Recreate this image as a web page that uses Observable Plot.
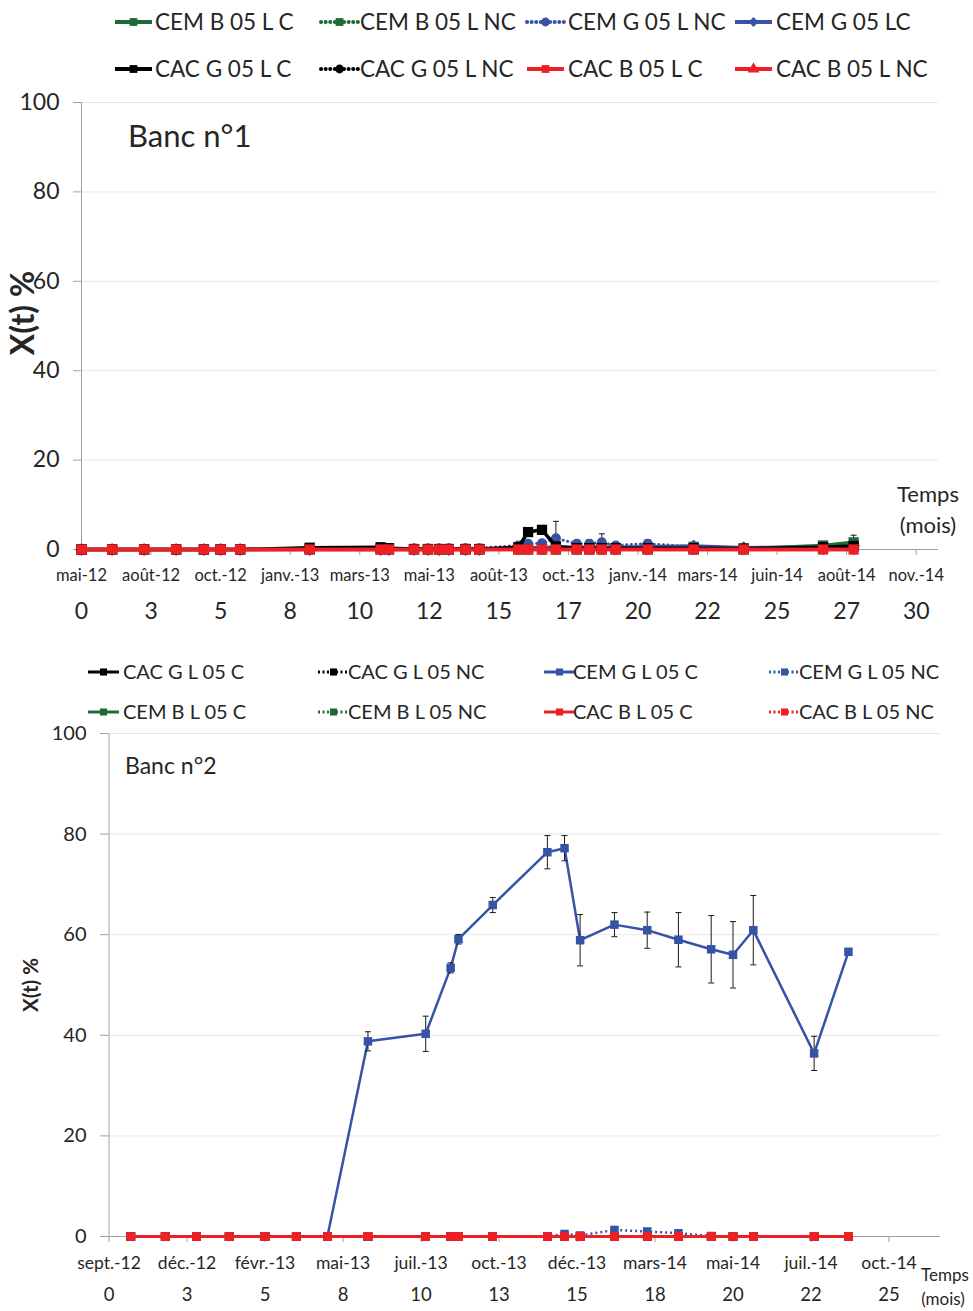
<!DOCTYPE html>
<html><head><meta charset="utf-8">
<script src="https://cdn.jsdelivr.net/npm/d3@7"></script>
<script src="https://cdn.jsdelivr.net/npm/@observablehq/plot@0.6"></script>
<style>
body{margin:0;background:#fff;font-family:Lato,"Open Sans",sans-serif;color:#262626}
#root{position:relative;width:973px;height:1311px;overflow:hidden;background:#fff}
#root > svg, #root > figure{position:absolute;left:0;margin:0}
</style></head><body><div id="root"></div>
<script>
// ---------- Panel 1 (Banc n°1) data ----------
const t1 = [0, 1.1, 2.25, 3.4, 4.4, 5.0, 5.7, 8.2, 10.75, 11.05, 11.95, 12.45, 12.85, 13.2, 13.8, 14.3, 15.7, 16.05, 16.55, 17.05, 17.8, 18.25, 18.7, 19.2, 20.35, 22.0, 23.8, 26.65, 27.75];
const cemB05LC_1      = [0,0,0,0,0,0,0,0.1,0.2,0.2,0.1,0.1,0.1,0.1,0.1,0.1,0.2,0.2,0.2,0.3,0.3,0.3,0.3,0.3,0.4,0.6,0.2,0.9,1.6];
const cemB05LC_1_err  = [0,0,0,0,0,0,0,0,0,0,0,0,0,0,0,0,0,0,0,0,0,0,0,0,0,0,0,0.3,1.6];
const cemB05LNC_1     = [0,0,0,0,0,0,0,0,0,0,0,0,0,0,0,0,0,0,0,0,0,0,0,0,0,0,0,0.5,0.8];
const cemG05LNC_1     = [0,0,0,0,0,0,0,0.1,0.2,0.2,0.2,0.2,0.2,0.3,0.3,0.3,0.9,1.3,1.4,2.5,1.3,1.3,1.6,0.9,1.3,0.6,0.3,0.4,0.5];
const cemG05LNC_1_err = [0,0,0,0,0,0,0,0,0,0,0,0,0,0,0,0,0,0.3,0.3,3.8,0.8,0.9,1.9,0,0.9,0,0,0,0];
const cemG05LC_1      = [0,0,0,0,0,0,0,0,0,0,0,0,0,0,0,0,0.3,0.4,0.4,0.5,0.5,0.5,0.5,0.5,0.6,0.8,0.4,0.5,0.8];
const cacG05LC_1      = [0,0,0,0,0,0,0,0.4,0.5,0.3,0.1,0.1,0.1,0.1,0.1,0.1,0.5,3.9,4.4,0.7,0.3,0.3,0.3,0.3,0.3,0.3,0.2,0.5,0.8];
const cacG05LNC_1     = [0,0,0,0,0,0,0,0,0,0,0,0,0,0,0,0,0,0,0,0,0,0,0,0,0,0,0,0,0];
const cacB05LC_1      = [0,0,0,0,0,0,0,0,0,0,0,0,0,0,0,0,0,0,0,0,0,0,0,0,0,0,0,0,0];
const cacB05LNC_1     = [0,0,0,0,0,0,0,0,0,0,0,0,0,0,0,0,0,0,0,0,0,0,0,0,0,0,0,0,0];
const xTicks1 = [0, 2.5, 5, 7.5, 10, 12.5, 15, 17.5, 20, 22.5, 25, 27.5, 30];
const dateLabels1 = ["mai-12","août-12","oct.-12","janv.-13","mars-13","mai-13","août-13","oct.-13","janv.-14","mars-14","juin-14","août-14","nov.-14"];
const monthLabels1 = ["0","3","5","8","10","12","15","17","20","22","25","27","30"];

// ---------- Panel 2 (Banc n°2) data ----------
const t2 = [0.7, 1.8, 2.8, 3.85, 5.0, 6.0, 7.0, 8.3, 10.15, 10.95, 11.2, 12.3, 14.05, 14.6, 15.1, 16.2, 17.25, 18.25, 19.3, 20.0, 20.65, 22.6, 23.7];
const cacGL05C_2      = [0,0,0,0,0,0,0,0,0,0,0,0,0,0,0,0,0,0,0,0,0,0,0];
const cacGL05NC_2     = [0,0,0,0,0,0,0,0,0,0,0,0,0,0,0,0,0,0,0,0,0,0,0];
const cemGL05C_2      = [0,0,0,0,0,0,0,38.8,40.3,53.4,59.1,65.9,76.4,77.2,58.9,62.0,60.9,59.0,57.1,56.0,60.9,36.4,56.6];
const cemGL05C_2_err  = [0,0,0,0,0,0,0,1.9,3.5,1.0,0.95,1.5,3.3,2.5,5.1,2.4,3.6,5.4,6.7,6.6,6.9,3.4,0];
const cemGL05NC_2     = [0,0,0,0,0,0,0,0,0,0,0,0,0,0.5,0.2,1.3,1.0,0.65,0.1,null,null,null,null];
const cemBL05C_2      = [0,0,0,0,0,0,0,0,0,0,0,0,0,0,0,0,0,0,0,0,0,0,0];
const cemBL05NC_2     = [0,0,0,0,0,0,0,0,0,0,0,0,0,0,0,0,0,0,0,0,0,0,0];
const cacBL05C_2      = [0,0,0,0,0,0,0,0,0,0,0,0,0,0,0,0,0,0,0,0,0,0,0];
const cacBL05NC_2     = [0,0,0,0,0,0,0,0,0,0,0,0,0,0,0,0,0,0,0,0,0,0,0];
const xTicks2 = [0, 2.5, 5, 7.5, 10, 12.5, 15, 17.5, 20, 22.5, 25];
const dateLabels2 = ["sept.-12","déc.-12","févr.-13","mai-13","juil.-13","oct.-13","déc.-13","mars-14","mai-14","juil.-14","oct.-14"];
const monthLabels2 = ["0","3","5","8","10","13","15","18","20","22","25"];

const yTicks = [0, 20, 40, 60, 80, 100];
const gridTicks = [20, 40, 60, 80, 100];

// ---------- styles ----------
const GREEN = "#1d6b36", BLUE = "#3653a5", BLACK = "#000000", RED = "#ee1f25";
const TXT = "#262626", AXIS = "#a0a0a0", GRID = "#e8e8e8", ERR = "#1a1a1a";

const series1 = [
  {name:"CEM B 05 L C",  values:cemB05LC_1,  err:cemB05LC_1_err,  color:GREEN, dotted:false, symbol:"square"},
  {name:"CEM B 05 L NC", values:cemB05LNC_1, color:GREEN, dotted:true,  symbol:"square"},
  {name:"CEM G 05 L NC", values:cemG05LNC_1, err:cemG05LNC_1_err, color:BLUE, dotted:true, symbol:"circle"},
  {name:"CEM G 05 LC",   values:cemG05LC_1,  color:BLUE,  dotted:false, symbol:"diamond2"},
  {name:"CAC G 05 L C",  values:cacG05LC_1,  color:BLACK, dotted:false, symbol:"square"},
  {name:"CAC G 05 L NC", values:cacG05LNC_1, color:BLACK, dotted:true,  symbol:"circle"},
  {name:"CAC B 05 L NC", values:cacB05LNC_1, color:RED,   dotted:false, symbol:"triangle", plotR:3.2},
  {name:"CAC B 05 L C",  values:cacB05LC_1,  color:RED,   dotted:false, symbol:"square"}
];
const series2 = [
  {name:"CAC G L 05 C",  values:cacGL05C_2,  color:BLACK, dotted:false, symbol:"square"},
  {name:"CAC G L 05 NC", values:cacGL05NC_2, color:BLACK, dotted:true,  symbol:"square"},
  {name:"CEM B L 05 C",  values:cemBL05C_2,  color:GREEN, dotted:false, symbol:"square"},
  {name:"CEM B L 05 NC", values:cemBL05NC_2, color:GREEN, dotted:true,  symbol:"square"},
  {name:"CEM G L 05 C",  values:cemGL05C_2,  err:cemGL05C_2_err, color:BLUE, dotted:false, symbol:"square"},
  {name:"CEM G L 05 NC", values:cemGL05NC_2, color:BLUE,  dotted:true,  symbol:"square"},
  {name:"CAC B L 05 NC", values:cacBL05NC_2, color:RED,   dotted:true,  symbol:"square"},
  {name:"CAC B L 05 C",  values:cacBL05C_2,  color:RED,   dotted:false, symbol:"square"}
];

const capSymbol = {draw(ctx, size){ const w = Math.sqrt(size / Math.PI); ctx.moveTo(-w, 0); ctx.lineTo(w, 0); }};

function seriesMarks(t, list, o) {
  const marks = [];
  for (const s of list) {
    const rows = t.map((tt, i) => ({t: tt, v: s.values[i], e: s.err ? s.err[i] : 0})).filter(d => d.v != null);
    const lw = s.color === RED ? o.redW : (s.dotted ? o.dotW : o.lineW);
    marks.push(Plot.line(rows, {x:"t", y:"v", stroke:s.color, strokeWidth:lw,
      strokeDasharray: s.dotted ? o.dash : null, strokeLinecap: s.dotted ? o.dotCap : "butt", strokeLinejoin:"round"}));
    const er = rows.filter(d => d.e > 0);
    if (er.length) {
      marks.push(Plot.ruleX(er, {x:"t", y1:d => Math.max(0, d.v - d.e), y2:d => d.v + d.e, stroke:ERR, strokeWidth:1}));
      marks.push(Plot.dot(er, {x:"t", y:d => d.v + d.e, symbol:capSymbol, r:o.cap, stroke:ERR, strokeWidth:1, fill:"none"}));
      marks.push(Plot.dot(er.filter(d => d.v - d.e > 0), {x:"t", y:d => d.v - d.e, symbol:capSymbol, r:o.cap, stroke:ERR, strokeWidth:1, fill:"none"}));
    }
    const r = s.plotR ?? (s.symbol === "circle" ? o.rc : o.r);
    marks.push(Plot.dot(rows, {x:"t", y:"v", symbol:s.symbol, r, fill:s.color, stroke:"none"}));
  }
  return marks;
}

function frameMarks(xTicks, dateLabels, monthLabels, f) {
  return [
    Plot.ruleY(gridTicks, {stroke:GRID, strokeWidth:1}),
    Plot.ruleY([0], {stroke:AXIS, strokeWidth:1}),
    Plot.ruleX([0], {stroke:AXIS, strokeWidth:1}),
    Plot.axisY({ticks:yTicks, tickSize:f.yTickSize, tickPadding:f.yPad, fontSize:f.yFont, stroke:AXIS, fill:TXT, label:null}),
    Plot.axisX({ticks:xTicks, tickFormat:d => dateLabels[xTicks.indexOf(d)], tickSize:6, tickPadding:f.datePad, fontSize:f.dateFont, stroke:AXIS, fill:TXT, label:null}),
    Plot.axisX({ticks:xTicks, tickFormat:d => monthLabels[xTicks.indexOf(d)], tickSize:0, tickPadding:f.numPad, fontSize:f.numFont, fill:TXT, label:null})
  ];
}

const root = document.getElementById("root");

const p1 = Plot.plot({
  width:973, height:540, marginLeft:81, marginRight:35, marginTop:10, marginBottom:83,
  x:{domain:[0, 30.8]}, y:{domain:[0, 100]},
  style:{fontFamily:"Lato, 'Open Sans', sans-serif", background:"transparent", overflow:"visible"},
  marks:[
    ...frameMarks(xTicks1, dateLabels1, monthLabels1, {yTickSize:8, yPad:14, yFont:23, datePad:14, dateFont:16.5, numPad:53, numFont:23}),
    ...seriesMarks(t1, series1, {lineW:3.5, redW:3.5, dotW:3, dash:"0.1,4.5", dotCap:"round", r:5.8, rc:5, cap:3})
  ]
});
p1.style.top = "92px";
root.appendChild(p1);

const p2 = Plot.plot({
  width:973, height:589, marginLeft:108.5, marginRight:33, marginTop:11, marginBottom:75,
  x:{domain:[0, 26.65]}, y:{domain:[0, 100]},
  style:{fontFamily:"Lato, 'Open Sans', sans-serif", background:"transparent", overflow:"visible"},
  marks:[
    ...frameMarks(xTicks2, dateLabels2, monthLabels2, {yTickSize:8.5, yPad:14, yFont:20, datePad:14, dateFont:17.5, numPad:51, numFont:18.5}),
    ...seriesMarks(t2, series2, {lineW:2.5, redW:3, dotW:2.5, dash:"2,3", dotCap:"butt", r:4.8, rc:4.8, cap:3})
  ]
});
p2.style.top = "722px";
root.appendChild(p2);

// ---------- overlay: legends and annotations ----------
const ov = d3.create("svg").attr("width", 973).attr("height", 1311)
  .style("position","absolute").style("left","0").style("top","0").style("pointer-events","none")
  .style("font-family","Lato, 'Open Sans', sans-serif");
function txt(str, x, y, size, o = {}) {
  const t = ov.append("text").attr("x", x).attr("y", y).attr("font-size", size).attr("fill", TXT)
    .attr("text-anchor", o.anchor || "start").text(str);
  if (o.bold) t.attr("font-weight", "bold");
  if (o.rotate) t.attr("transform", `rotate(-90 ${x} ${y})`);
}
const symbolMap = {square:d3.symbolSquare, circle:d3.symbolCircle, diamond2:d3.symbolDiamond2, triangle:d3.symbolTriangle};
function legendItem(s, sx, sw, cy, tx, size, lw, dash, cap, r) {
  ov.append("line").attr("x1", sx).attr("x2", sx + sw).attr("y1", cy).attr("y2", cy)
    .attr("stroke", s.color).attr("stroke-width", lw)
    .attr("stroke-dasharray", s.dotted ? dash : null).attr("stroke-linecap", s.dotted ? cap : "butt");
  ov.append("path").attr("d", d3.symbol(symbolMap[s.symbol], Math.PI * r * r)())
    .attr("transform", `translate(${sx + sw / 2},${cy})`).attr("fill", s.color);
  txt(s.name, tx, cy + size * 0.36, size);
}
const byName1 = Object.fromEntries(series1.map(s => [s.name, s]));
const byName2 = Object.fromEntries(series2.map(s => [s.name, s]));
const legend1 = [["CEM B 05 L C","CEM B 05 L NC","CEM G 05 L NC","CEM G 05 LC"],
                 ["CAC G 05 L C","CAC G 05 L NC","CAC B 05 L C","CAC B 05 L NC"]];
const legend2 = [["CAC G L 05 C","CAC G L 05 NC","CEM G L 05 C","CEM G L 05 NC"],
                 ["CEM B L 05 C","CEM B L 05 NC","CAC B L 05 C","CAC B L 05 NC"]];
const l1sx = [115, 321, 527, 735], l1tx = [155, 360, 568, 776], l1y = [22, 69];
legend1.forEach((row, ri) => row.forEach((n, ci) =>
  legendItem(byName1[n], l1sx[ci], 37, l1y[ri], l1tx[ci], 22.5, 4, "0.1,4.5", "round", 4.4)));
const l2sx = [88, 318, 544, 769], l2tx = [123, 348, 573, 799], l2y = [672, 712];
legend2.forEach((row, ri) => row.forEach((n, ci) =>
  legendItem(byName2[n], l2sx[ci], 31, l2y[ri], l2tx[ci], 20, 3, "2,2.5", "butt", 4)));

txt("Banc n°1", 128, 147, 31);
txt("Banc n°2", 125, 774, 23);
txt("X(t) %", 34, 313, 32, {bold:true, rotate:true, anchor:"middle"});
txt("X(t) %", 38, 985, 20.5, {bold:true, rotate:true, anchor:"middle"});
txt("Temps", 928, 502, 22, {anchor:"middle"});
txt("(mois)", 928, 533, 22, {anchor:"middle"});
txt("Temps", 945, 1281, 17, {anchor:"middle"});
txt("(mois)", 943, 1305, 17, {anchor:"middle"});
root.appendChild(ov.node());
</script></body></html>
